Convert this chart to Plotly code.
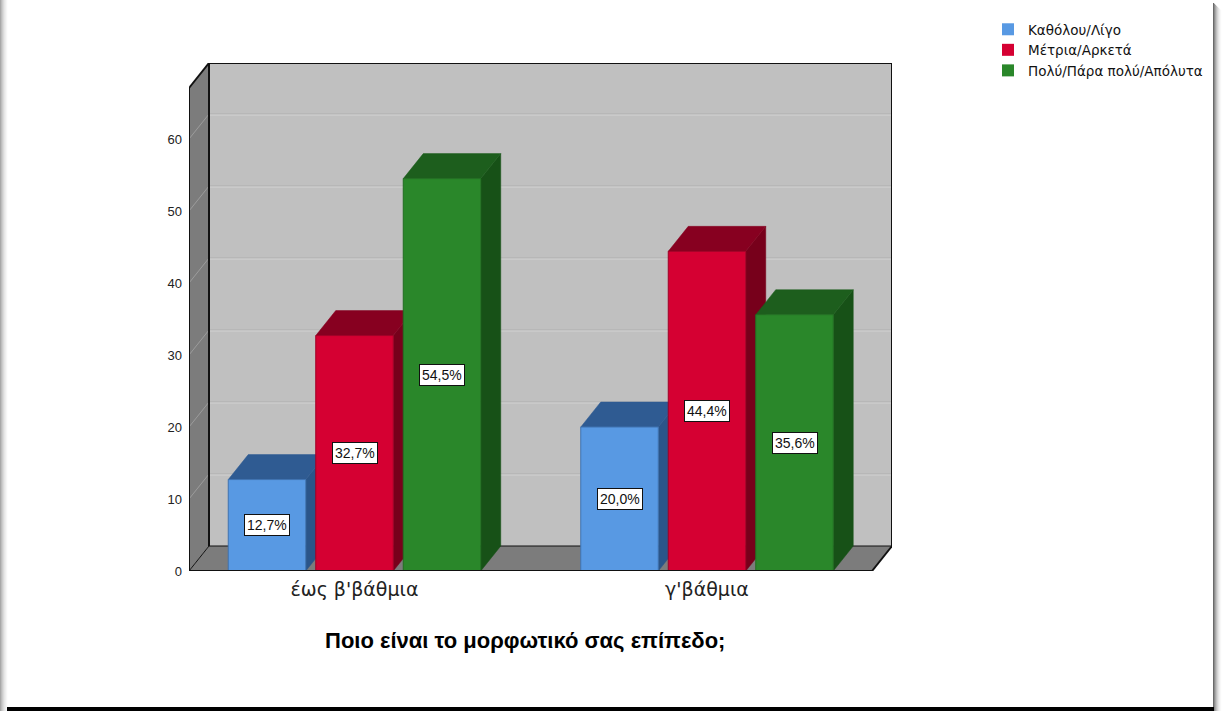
import plotly.graph_objects as go

# ---------------- data ----------------
categories = ["έως β'βάθμια", "γ'βάθμια"]
series_names = ["Καθόλου/Λίγο", "Μέτρια/Αρκετά", "Πολύ/Πάρα πολύ/Απόλυτα"]
values_low = [12.7, 20.0]
values_mid = [32.7, 44.4]
values_high = [54.5, 35.6]
y_ticks = [0, 10, 20, 30, 40, 50, 60]
x_title = "Ποιο είναι το μορφωτικό σας επίπεδο;"

# ---------------- style / geometry ----------------
front_colors = ["#5899E3", "#D50032", "#2A872A"]
top_colors = ["#2F5B92", "#870020", "#1D5E1D"]
side_colors = ["#2B5589", "#77001B", "#175117"]
edge_colors = ["#3F73B0", "#A00026", "#226E22"]

W, H = 1222, 711
L, R, T, B = 189, 330, 63, 140
PW, PH = W - L - R, H - T - B

X_MAX = PW            # x axis in pixel-like units
Y_MAX = 70.56         # value at top of back wall
DX = 20               # depth offset (x units)
DY = 25 / (PH / Y_MAX)  # depth offset (value units)
FLOOR_W = X_MAX - DX
group_centers = [165.5, 518.0]
offsets = [-87.5, 0.0, 87.5]
BAR_W = 77.5

SANS = "Liberation Sans, Arial, sans-serif"
WIDE = "DejaVu Sans, Verdana, sans-serif"


def px(p):
    return (p - L) / PW


def py(p):
    return (H - B - p) / PH


fig = go.Figure()
shapes = []

# back wall
shapes.append(dict(type="rect", xref="x", yref="y", x0=DX, x1=X_MAX, y0=DY, y1=Y_MAX,
                   fillcolor="#C0C0C0", line=dict(width=0), layer="below"))
# left wall
shapes.append(dict(type="path", xref="x", yref="y",
                   path=f"M 0 0 L {DX} {DY} L {DX} {Y_MAX} L 0 {Y_MAX - DY} Z",
                   fillcolor="#7C7C7C", line=dict(width=0), layer="below"))
# floor
shapes.append(dict(type="path", xref="x", yref="y",
                   path=f"M 0 0 L {FLOOR_W} 0 L {X_MAX} {DY} L {DX} {DY} Z",
                   fillcolor="#7C7C7C", line=dict(width=0), layer="below"))
# grid lines on back and left walls
unit_px = PH / Y_MAX
for v in y_ticks[1:]:
    shapes.append(dict(type="line", xref="x", yref="y", x0=DX, x1=X_MAX,
                       y0=v + DY, y1=v + DY, line=dict(color="#AEAEAE", width=1), layer="below"))
    shapes.append(dict(type="line", xref="x", yref="y", x0=DX, x1=X_MAX,
                       y0=v + DY - 1 / unit_px, y1=v + DY - 1 / unit_px,
                       line=dict(color="#D2D2D2", width=1), layer="below"))
    shapes.append(dict(type="line", xref="x", yref="y", x0=0, x1=DX,
                       y0=v, y1=v + DY, line=dict(color="#9C9C9C", width=1), layer="below"))
# wall outlines
for (x0, y0, x1, y1, w) in [
    (DX, DY, DX, Y_MAX, 2), (DX, Y_MAX, X_MAX, Y_MAX, 2), (X_MAX, Y_MAX, X_MAX, DY, 2),
    (0, 0, 0, Y_MAX - DY, 2), (0, Y_MAX - DY, DX, Y_MAX, 2), (DX, DY, X_MAX, DY, 1),
    (0, 0, DX, DY, 1), (FLOOR_W, 0, X_MAX, DY, 2),
]:
    shapes.append(dict(type="line", xref="x", yref="y", x0=x0, y0=y0, x1=x1, y1=y1,
                       line=dict(color="#111111", width=w), layer="below"))
# front floor edge drawn above bars
shapes.append(dict(type="line", xref="x", yref="y", x0=0, y0=0, x1=FLOOR_W, y1=0,
                   line=dict(color="#111111", width=2), layer="above"))


def poly(xs, ys, fill, line_color, lw=1):
    fig.add_trace(go.Scatter(x=xs + [xs[0]], y=ys + [ys[0]], mode="lines", fill="toself",
                             fillcolor=fill, line=dict(color=line_color, width=lw),
                             hoverinfo="skip", showlegend=False))


series_values = [values_low, values_mid, values_high]
annotations = []
for gi, gc in enumerate(group_centers):
    for si, off in enumerate(offsets):
        v = series_values[si][gi]
        c = gc + off
        xl, xr = c - BAR_W / 2, c + BAR_W / 2
        # side
        poly([xr, xr + DX, xr + DX, xr], [0, DY, v + DY, v], side_colors[si], side_colors[si], 0.5)
        # top
        poly([xl, xr, xr + DX, xl + DX], [v, v, v + DY, v + DY], top_colors[si], top_colors[si], 0.5)
        # front
        poly([xl, xr, xr, xl], [0, 0, v, v], front_colors[si], edge_colors[si], 1)
        annotations.append(dict(x=c, y=v / 2, xref="x", yref="y",
                                text=f"{v:.1f}%".replace(".", ","), showarrow=False,
                                bgcolor="white", bordercolor="#111111", borderwidth=1, borderpad=2,
                                font=dict(family=SANS, size=14, color="#111111")))

# legend entries
for name, col in zip(series_names, front_colors):
    fig.add_trace(go.Scatter(x=[None], y=[None], mode="markers", name=name,
                             marker=dict(symbol="square", size=12, color=col)))

# axis title
annotations.append(dict(x=px(525), y=py(640), xref="paper", yref="paper", text=f"<b>{x_title}</b>",
                        showarrow=False, xanchor="center", yanchor="middle",
                        font=dict(family=SANS, size=22, color="#000000")))

# frame decoration
for i, col in enumerate(["#A8A8A8", "#BCBCBC", "#CCCCCC", "#DADADA", "#E6E6E6", "#EEEEEE", "#F6F6F6"]):
    shapes.append(dict(type="rect", xref="paper", yref="paper", x0=px(i), x1=px(i + 1.2),
                       y0=py(H), y1=py(0), fillcolor=col, line=dict(width=0), layer="above"))
for i, col in enumerate(["#6A6A6A", "#8C8C8C", "#A8A8A8", "#C0C0C0", "#D4D4D4", "#E4E4E4", "#F0F0F0", "#F8F8F8"]):
    shapes.append(dict(type="rect", xref="paper", yref="paper", x0=px(1213 + i), x1=px(1214.2 + i),
                       y0=py(H), y1=py(3 + i), fillcolor=col, line=dict(width=0), layer="above"))
shapes.append(dict(type="rect", xref="paper", yref="paper", x0=px(7), x1=px(1214),
                   y0=py(H), y1=py(707), fillcolor="#000000", line=dict(width=0), layer="above"))

fig.update_layout(
    width=W, height=H,
    margin=dict(l=L, r=R, t=T, b=B, pad=0),
    paper_bgcolor="white", plot_bgcolor="white",
    shapes=shapes, annotations=annotations,
    showlegend=True,
    legend=dict(x=px(988), y=py(14), xanchor="left", yanchor="top",
                font=dict(family=WIDE, size=13.5, color="#111111"),
                bgcolor="rgba(0,0,0,0)", tracegroupgap=0, itemwidth=30),
    xaxis=dict(range=[0, X_MAX], showgrid=False, zeroline=False, showline=False,
               tickvals=group_centers, ticktext=categories, ticks="", ticklabelstandoff=5,
               tickfont=dict(family=WIDE, size=19, color="#222222")),
    yaxis=dict(range=[0, Y_MAX], showgrid=False, zeroline=False, showline=False,
               tickvals=y_ticks, ticktext=[str(t) for t in y_ticks], ticks="", ticklabelstandoff=6,
               tickfont=dict(family=SANS, size=13, color="#222222")),
)

fig.write_html("out.html", config={"displayModeBar": False},
               post_script="document.body.style.margin='0px';document.body.style.overflow='hidden';")
